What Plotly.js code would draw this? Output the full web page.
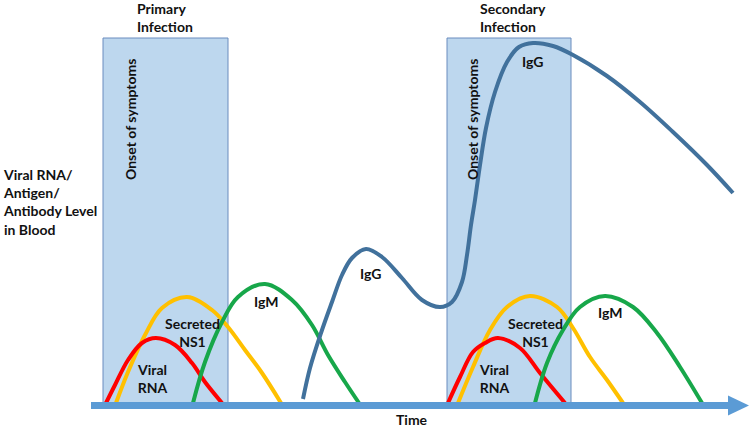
<!DOCTYPE html>
<html>
<head>
<meta charset="utf-8">
<script src="https://cdn.plot.ly/plotly-3.0.1.min.js"></script>
<style>html,body{margin:0;padding:0;background:#fff;}#chart{width:750px;height:430px;}</style>
</head>
<body>
<div id="chart"></div>
<script>
// ---- Data (time in arbitrary units, level in arbitrary units) ----
const rnaPrimaryT   = [1.5, 2.4, 3.7, 5.1, 6.5, 8.4, 10.1, 11.4, 13.1];
const rnaPrimaryL   = [0, 4.5, 10.75, 15, 16.25, 14.5, 10, 5.25, 0];
const ns1PrimaryT   = [2.5, 3.7, 5.4, 7.1, 9.6, 12.1, 13.7, 15.4, 17.1, 19.0];
const ns1PrimaryL   = [0, 7.75, 17, 23.75, 26.5, 23.25, 19, 13.25, 7.5, 0];
const igmPrimaryT   = [10.2, 11.4, 13.1, 14.7, 17.4, 20.1, 22.1, 23.7, 25.4, 26.8];
const igmPrimaryL   = [0, 10.25, 20.25, 26.5, 29.75, 25.75, 19.5, 12, 5.25, 0];

const rnaSecondT    = [35.7, 36.9, 38.2, 39.4, 40.7, 42.9, 44.9, 47.4];
const rnaSecondL    = [0, 6.5, 12.75, 15, 16.25, 13.75, 7.5, 0];
const ns1SecondT    = [36.7, 38.2, 39.9, 41.6, 43.9, 46.6, 48.2, 49.9, 51.6, 53.2];
const ns1SecondL    = [0, 9, 18.25, 24, 26.75, 24, 18.75, 11.5, 5.75, 0];
const igmSecondT    = [44.4, 45.6, 47.2, 48.9, 51.4, 54.2, 56.6, 58.9, 61.1];
const igmSecondL    = [0, 10, 18.25, 24, 26.75, 24, 17.5, 9, 0];

const iggT = [21.2, 21.9, 23.0, 24.1, 25.1, 26.1, 27.5, 29.1, 31.1, 33.1, 34.9, 36.1, 37.1, 37.6, 38.0, 38.4, 38.9, 39.5, 40.4, 41.6, 42.8, 44.2, 46.2, 48.2, 51.6, 54.9, 58.2, 61.6, 64.2];
const iggL = [1, 8.75, 17.5, 25.25, 32, 36.25, 38.5, 36.5, 31.25, 25.75, 24, 25.25, 30.25, 37, 44.5, 50.75, 59.5, 68.75, 77.75, 85.25, 89, 90, 89.25, 87, 81.75, 75.25, 67.75, 59.5, 52.5];

const onsetStart = [1.2, 35.6];
const onsetEnd   = [13.7, 48.0];
const onsetTop   = 91.25;
const infectionLabels = ['Primary<br>Infection', 'Secondary<br>Infection'];
const timeEnd = 65.8;

// ---- Styles ----
const C_RED = '#FF0000', C_YEL = '#FFC000', C_GRN = '#17A74A', C_IGG = '#41719C';
const C_ARROW = '#5B9BD5', C_BOX = '#BDD7EE', C_BOXLINE = '#6A8CBE';
const FONT = 'Lato, "Open Sans", sans-serif';
const FS = 14;
const LW = 4;

function curve(t, l, color) {
  return {x: t, y: l, type: 'scatter', mode: 'lines', hoverinfo: 'skip',
          line: {color: color, width: LW, shape: 'spline', smoothing: 1}};
}

const traces = [
  curve(ns1PrimaryT, ns1PrimaryL, C_YEL),
  curve(rnaPrimaryT, rnaPrimaryL, C_RED),
  curve(igmPrimaryT, igmPrimaryL, C_GRN),
  curve(ns1SecondT, ns1SecondL, C_YEL),
  curve(rnaSecondT, rnaSecondL, C_RED),
  curve(igmSecondT, igmSecondL, C_GRN),
  curve(iggT, iggL, C_IGG)
];

const shapes = [];
onsetStart.forEach((s, i) => {
  shapes.push({type: 'rect', xref: 'x', yref: 'y', x0: s, x1: onsetEnd[i], y0: 0, y1: onsetTop,
               fillcolor: C_BOX, line: {color: C_BOXLINE, width: 1}, layer: 'below'});
});
// time axis arrow
const headStart = timeEnd - 2.1;
shapes.push({type: 'rect', xref: 'x', yref: 'y', x0: 0, x1: headStart, y0: -1.5, y1: 0.25,
             fillcolor: C_ARROW, line: {width: 0}, layer: 'above'});
shapes.push({type: 'path', xref: 'x', yref: 'y',
             path: `M ${headStart},1.9 L ${timeEnd},-0.625 L ${headStart},-3.15 Z`,
             fillcolor: C_ARROW, line: {width: 0}, layer: 'above'});

const txt = (text, x, y, opts) => Object.assign({
  text: text, x: x, y: y, xref: 'x', yref: 'y', showarrow: false,
  font: {family: FONT, size: FS, color: '#111', weight: 'bold'}
}, opts || {});

const annotations = [
  txt(infectionLabels[0], 4.4, 96.4, {xanchor: 'left', align: 'left'}),
  txt(infectionLabels[1], 38.7, 96.4, {xanchor: 'left', align: 'left'}),
  txt('Viral RNA/<br>Antigen/<br>Antibody Level<br>in Blood', -9.0, 50.25, {xanchor: 'left', align: 'left'}),
  txt('Onset of symptoms', 3.9, 70.75, {textangle: -90}),
  txt('Onset of symptoms', 38.1, 70.75, {textangle: -90}),
  txt('Viral<br>RNA', 6.1, 6.1),
  txt('Viral<br>RNA', 40.3, 6.1),
  txt('Secreted<br>NS1', 10.1, 17.75),
  txt('Secreted<br>NS1', 44.4, 17.75),
  txt('IgM', 17.5, 25.5),
  txt('IgM', 51.9, 22.75),
  txt('IgG', 27.9, 32.5),
  txt('IgG', 44.1, 85.5),
  txt('Time', 32.1, -6.7, {yanchor: 'bottom'})
];

const layout = {
  width: 750, height: 430,
  margin: {l: 0, r: 0, t: 0, b: 0},
  paper_bgcolor: '#fff', plot_bgcolor: '#fff',
  showlegend: false,
  xaxis: {range: [-9.1, 65.9], visible: false, fixedrange: true},
  yaxis: {range: [-6.75, 100.75], visible: false, fixedrange: true},
  shapes: shapes,
  annotations: annotations
};

Plotly.newPlot('chart', traces, layout, {staticPlot: true, displayModeBar: false});
</script>
</body>
</html>
